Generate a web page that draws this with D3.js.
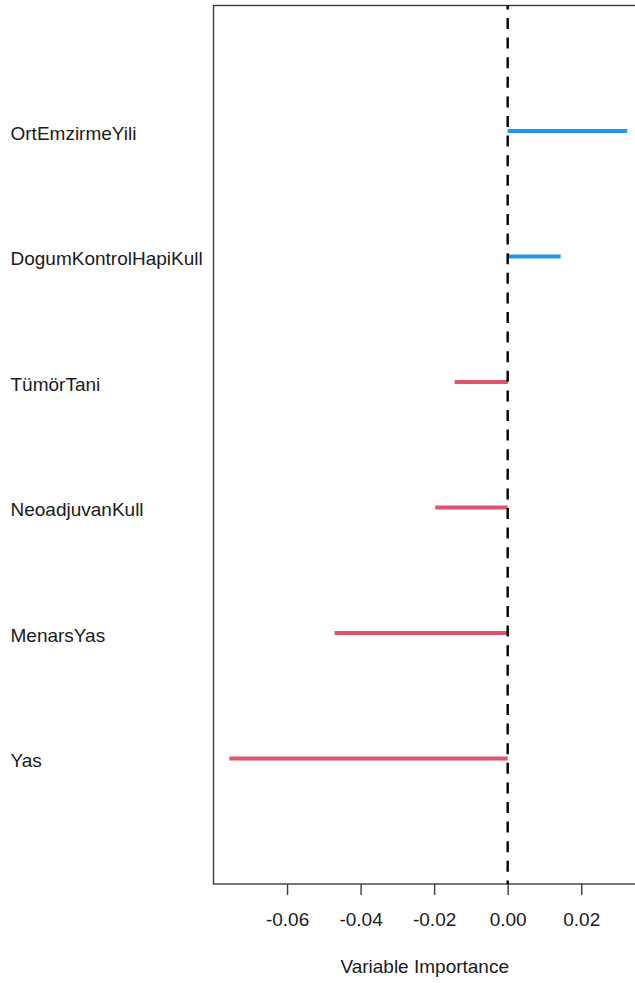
<!DOCTYPE html>
<html>
<head>
<meta charset="utf-8">
<script src="https://cdn.jsdelivr.net/npm/d3@7"></script>
<style>
  html, body { margin: 0; padding: 0; background: #fff; }
  svg { display: block; }
  text { font-family: "Liberation Sans", Arial, sans-serif; fill: #1a1a1a; }
</style>
</head>
<body>
<svg id="chart" width="635" height="983"></svg>
<script>
// Variable importance values (top to bottom)
const variables = ["OrtEmzirmeYili", "DogumKontrolHapiKull", "TümörTani", "NeoadjuvanKull", "MenarsYas", "Yas"];
const importance = [0.0325, 0.0144, -0.0144, -0.0197, -0.0471, -0.0757];
const tickValues = [-0.06, -0.04, -0.02, 0.00, 0.02];
const axisTitle = "Variable Importance";

const posColor = "#2297E6";
const negColor = "#DF536B";

const svg = d3.select("#chart");

const plot = { left: 213.5, right: 643, top: 5.5, bottom: 884 };
const fontSize = 19;

const x = d3.scaleLinear().domain([-0.0800, 0.0368]).range([plot.left, plot.right]);
const y = d3.scaleLinear().domain([0, variables.length + 1]).range([plot.bottom, plot.top]);
const rowY = i => y(variables.length - i);

// Plot frame
svg.append("rect")
  .attr("x", plot.left).attr("y", plot.top)
  .attr("width", plot.right - plot.left).attr("height", plot.bottom - plot.top)
  .attr("fill", "none").attr("stroke", "#3c3c3c").attr("stroke-width", 1.4);

// Importance segments from zero
svg.append("g").selectAll("line")
  .data(importance)
  .join("line")
  .attr("x1", x(0))
  .attr("x2", d => x(d))
  .attr("y1", (d, i) => rowY(i))
  .attr("y2", (d, i) => rowY(i))
  .attr("stroke", d => d >= 0 ? posColor : negColor)
  .attr("stroke-width", 4);

// Zero reference line
svg.append("line")
  .attr("x1", x(0)).attr("x2", x(0))
  .attr("y1", plot.top).attr("y2", plot.bottom)
  .attr("stroke", "#000").attr("stroke-width", 2.4)
  .attr("stroke-dasharray", "11 8.6")
  .attr("stroke-dashoffset", 7.1);

// Variable labels on the left
svg.append("g").selectAll("text")
  .data(variables)
  .join("text")
  .attr("x", 10.5)
  .attr("y", (d, i) => rowY(i) + 8.7)
  .attr("font-size", fontSize)
  .text(d => d);

// Bottom axis
const fmt = v => d3.format(".2f")(v).replace("−", "-");
const axis = d3.axisBottom(x)
  .tickValues(tickValues)
  .tickSize(11)
  .tickPadding(0)
  .tickFormat(fmt);

const gAxis = svg.append("g")
  .attr("transform", `translate(0,${plot.bottom})`)
  .call(axis);
gAxis.select(".domain").remove();
gAxis.selectAll(".tick line").attr("stroke", "#3c3c3c").attr("stroke-width", 1.4);
gAxis.selectAll(".tick text")
  .attr("y", 42).attr("dy", null)
  .attr("font-size", fontSize)
  .attr("fill", "#1a1a1a")
  .attr("font-family", "Liberation Sans, Arial, sans-serif");

// Axis title
svg.append("text")
  .attr("x", 424.7)
  .attr("y", 972.7)
  .attr("text-anchor", "middle")
  .attr("font-size", fontSize)
  .text(axisTitle);
</script>
</body>
</html>
